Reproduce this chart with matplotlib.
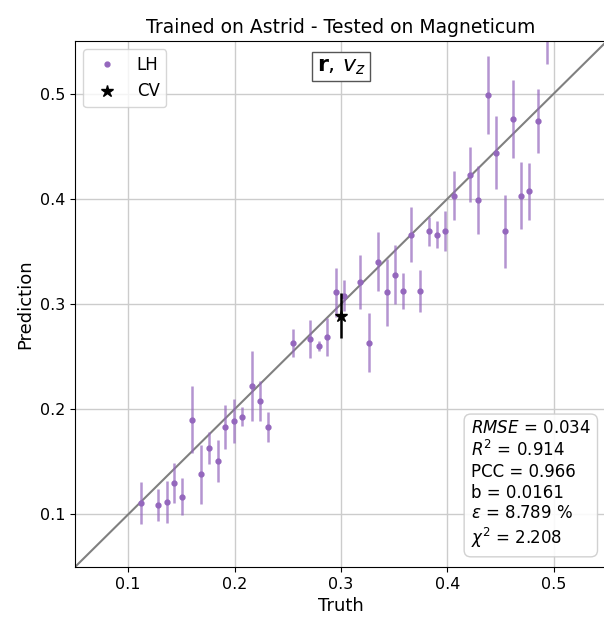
import matplotlib
matplotlib.use("Agg")
import matplotlib.pyplot as plt
import numpy as np

truth = [0.112, 0.128, 0.136, 0.143, 0.151, 0.160, 0.168, 0.176, 0.184, 0.191,
         0.199, 0.207, 0.216, 0.224, 0.231, 0.255, 0.271, 0.279, 0.287, 0.295,
         0.303, 0.318, 0.326, 0.335, 0.343, 0.351, 0.358, 0.366, 0.374, 0.383,
         0.390, 0.398, 0.406, 0.421, 0.429, 0.438, 0.446, 0.454, 0.462, 0.469,
         0.477, 0.485, 0.494]
pred = [0.111, 0.109, 0.112, 0.130, 0.117, 0.190, 0.138, 0.163, 0.151, 0.183,
        0.189, 0.193, 0.222, 0.208, 0.183, 0.263, 0.267, 0.260, 0.269, 0.311,
        0.308, 0.321, 0.263, 0.340, 0.311, 0.328, 0.312, 0.366, 0.312, 0.369,
        0.366, 0.369, 0.403, 0.423, 0.399, 0.499, 0.444, 0.369, 0.476, 0.403,
        0.407, 0.474, 0.558]
err = [0.020, 0.015, 0.020, 0.019, 0.018, 0.032, 0.028, 0.015, 0.020, 0.021,
       0.021, 0.009, 0.033, 0.019, 0.014, 0.013, 0.018, 0.005, 0.018, 0.023,
       0.015, 0.026, 0.028, 0.028, 0.032, 0.028, 0.017, 0.026, 0.020, 0.014,
       0.013, 0.019, 0.023, 0.026, 0.032, 0.037, 0.035, 0.035, 0.037, 0.032,
       0.027, 0.030, 0.030]

cv_truth = [0.300]
cv_pred = [0.289]
cv_err = [0.021]

stats_text = ("$RMSE$ = 0.034\n$R^2$ = 0.914\nPCC = 0.966\nb = 0.0161\n"
              "$\\epsilon$ = 8.789 %\n$\\chi^2$ = 2.208")

W, H = 604, 617
fig = plt.figure(figsize=(W / 100, H / 100), dpi=100)
ax = fig.add_axes([75 / W, 50 / H, 532 / W, 526 / H])

lims = (0.05, 0.55)
ax.plot(lims, lims, color='gray', lw=1.5, zorder=1)
purple = '#9467bd'
ax.errorbar(truth, pred, yerr=err, fmt='none', ecolor=purple, alpha=0.7,
            elinewidth=1.8, zorder=2)
ax.plot(truth, pred, 'o', color=purple, ms=3.5, zorder=3, label='LH', linestyle='none')
ax.errorbar(cv_truth, cv_pred, yerr=cv_err, fmt='none', ecolor='black',
            elinewidth=1.8, zorder=4)
ax.plot(cv_truth, cv_pred, '*', color='black', ms=9, zorder=5, label='CV', linestyle='none')

ax.set_xlim(lims)
ax.set_ylim(lims)
ax.set_xticks([0.1, 0.2, 0.3, 0.4, 0.5])
ax.set_yticks([0.1, 0.2, 0.3, 0.4, 0.5])
ax.tick_params(labelsize=11.5)
ax.grid(True, color='#cccccc', lw=1)
ax.set_axisbelow(True)
ax.set_xlabel('Truth', fontsize=13, labelpad=4)
ax.set_ylabel('Prediction', fontsize=13)
ax.set_title('Trained on Astrid - Tested on Magneticum', fontsize=13.5, pad=6)

ax.legend(loc='upper left', fontsize=12, markerscale=1.0, borderaxespad=0.5)
ax.text(0.5, 0.9515, r'$\mathbf{r}$, $v_z$', transform=ax.transAxes, ha='center',
        va='center', fontsize=16,
        bbox=dict(boxstyle='square,pad=0.2', facecolor='white', edgecolor='#555555'))
ax.text(0.744, 0.032, stats_text, transform=ax.transAxes, ha='left', va='bottom',
        fontsize=12, linespacing=1.2,
        bbox=dict(boxstyle='round,pad=0.4', facecolor='white', edgecolor='#cccccc', alpha=0.9))

fig.text(341 / W, 1 + 16 / H, 'Truth', ha='center', va='top', fontsize=13, color='#333333')

fig.savefig('out.png', dpi=100)
